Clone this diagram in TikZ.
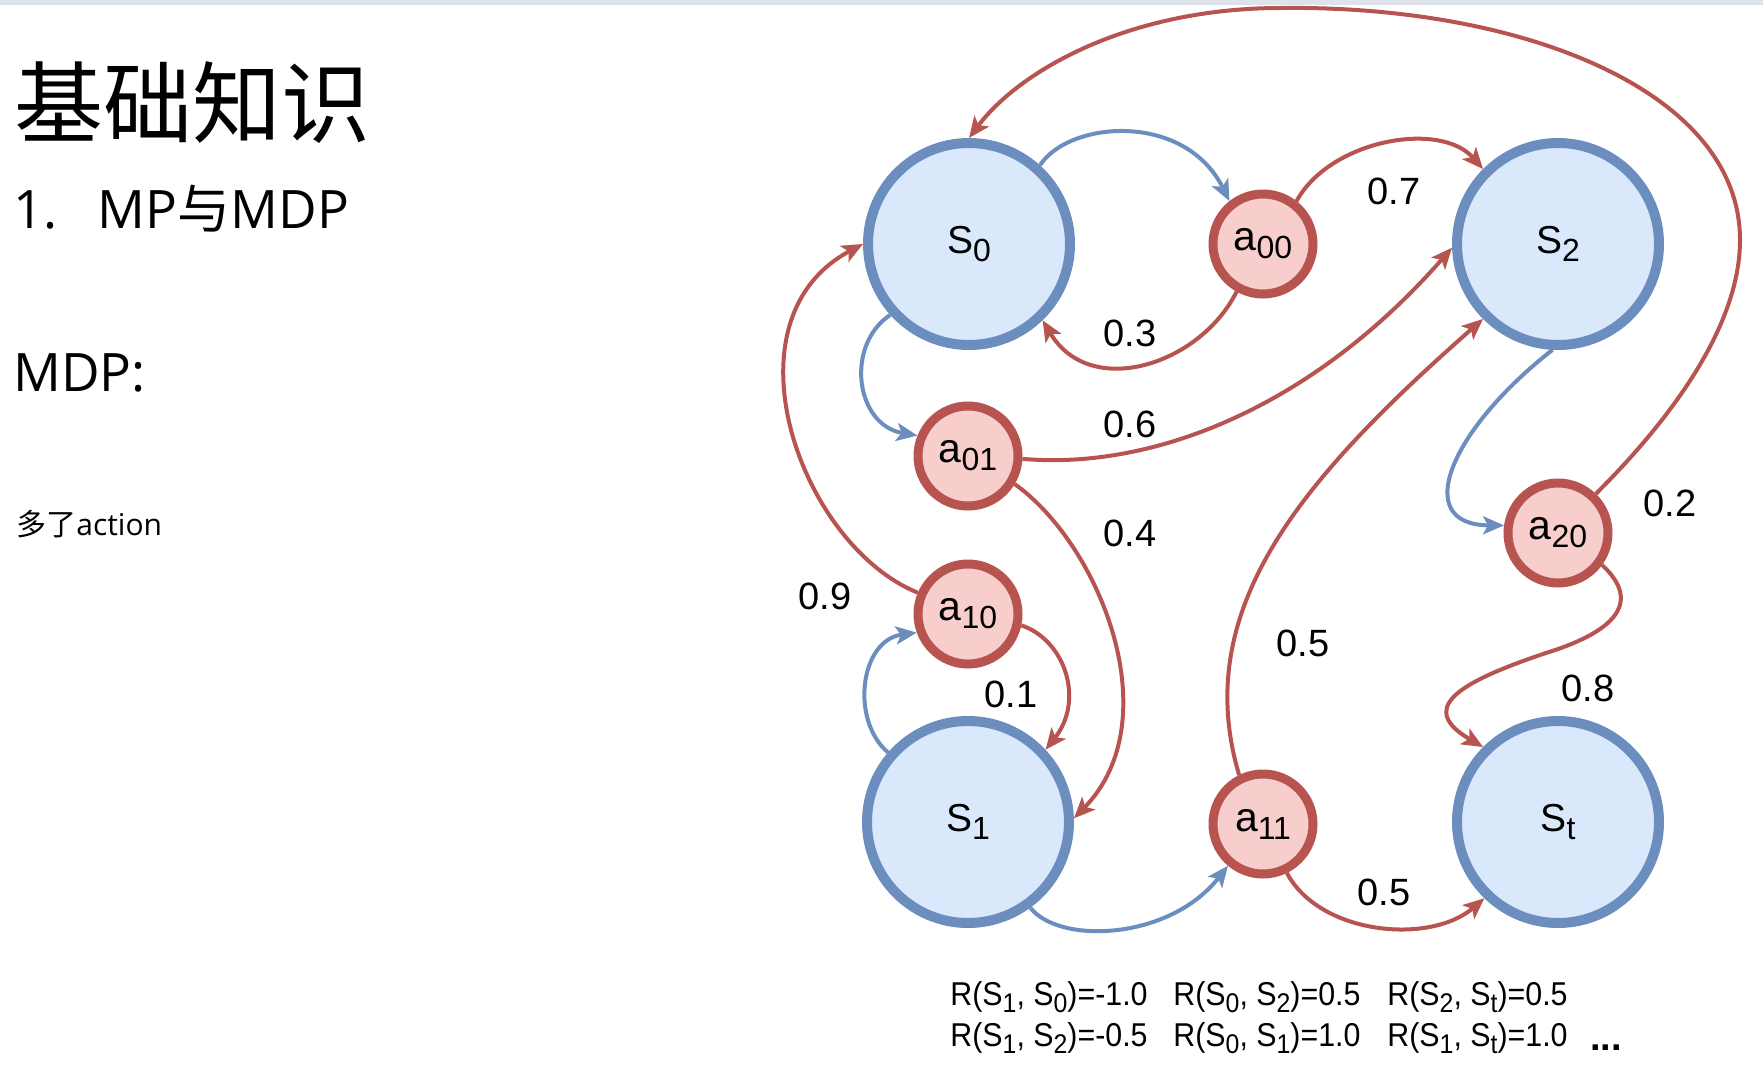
\documentclass[tikz,border=0pt]{standalone}
\usepackage{fontspec}
\setmainfont{Liberation Sans}
\newfontfamily\cjk{Noto Sans CJK SC}
\newfontfamily\lat{Open Sans}
\newfontfamily\narrow[FakeStretch=0.92]{Liberation Sans}
\usetikzlibrary{arrows.meta}
\definecolor{sblue}{HTML}{6C8EBF}
\definecolor{sbluef}{HTML}{DAE8FC}
\definecolor{sred}{HTML}{B85450}
\definecolor{sredf}{HTML}{F8CECC}
\definecolor{topbar}{HTML}{DDE3E8}
\newcommand\nsub[2]{#1\raisebox{-4pt}{\fontsize{16pt}{16pt}\selectfont #2}}
\newcommand\rsub[1]{\raisebox{-3.5pt}{\fontsize{13.5pt}{13.5pt}\selectfont #1}}
\begin{document}
\begin{tikzpicture}[x=0.5pt,y=-0.5pt,
  state/.style={circle,draw=sblue,fill=sbluef,line width=5pt,minimum size=101pt,inner sep=0pt,font=\fontsize{19.5pt}{20pt}\selectfont},
  act/.style={circle,draw=sred,fill=sredf,line width=4.5pt,minimum size=50pt,inner sep=0pt,font=\fontsize{20.5pt}{21pt}\selectfont},
  tip/.style={-{Stealth[length=10.5pt,width=9pt,inset=2.5pt]}},
  bedge/.style={draw=sblue,line width=2pt,tip},
  redge/.style={draw=sred,line width=2pt,tip},
  plab/.style={inner sep=0pt,font=\fontsize{19pt}{20pt}\selectfont},
  rtxt/.style={anchor=base west,inner sep=0pt,font=\narrow\fontsize{16.5pt}{17pt}\selectfont},
  ttl/.style={anchor=base west,inner sep=0pt}
]
\path[use as bounding box,fill=white] (0,0) rectangle (1763,1072);
\fill[topbar] (0,0) rectangle (1763,5);

% title block
\node[ttl,font=\cjk\fontsize{44.5pt}{45pt}\selectfont] (title) at (14,136) {基础知识};
\node[ttl,font=\lat\fontsize{26.5pt}{27pt}\selectfont] (sec) at (13,228) {1.\hspace{20pt}MP{\cjk 与}MDP};
\node[ttl,font=\lat\fontsize{26.5pt}{27pt}\selectfont] (mdp) at (13,391) {MDP:};
\node[ttl,font=\lat\fontsize{15pt}{16pt}\selectfont] (note) at (16,535) {{\cjk 多了}action};

% nodes
\node[state] (S0) at (969,244) {\nsub{S}{0}};
\node[state] (S2) at (1558,244) {\nsub{S}{2}};
\node[state] (S1) at (968,822) {\nsub{S}{1}};
\node[state] (St) at (1558,822) {\nsub{S}{t}};
\node[act] (a00) at (1263,244) {\nsub{a}{00}};
\node[act] (a01) at (968,456) {\nsub{a}{01}};
\node[act] (a10) at (968,614) {\nsub{a}{10}};
\node[act] (a20) at (1558,533) {\nsub{a}{20}};
\node[act] (a11) at (1263,824) {\nsub{a}{11}};

\coordinate (w1) at (1740,240);
\coordinate (w2) at (1281,8);
\coordinate (w3) at (1546,653);

% edges
\draw[bedge] (S0.48) .. controls (1070,120) and (1185,112) .. (a00.128);
\draw[redge] (a00.52) .. controls (1330,140) and (1440,120) .. (S2.135);
\draw[redge] (a00.241) .. controls (1200,365) and (1090,400) .. (S0.314);
\draw[bedge] (S0.222) .. controls (845,345) and (855,425) .. (a01.158);
\draw[redge] (a01.-3) .. controls (1150,470) and (1310,410) .. (S2.182);
\draw[redge] (a01.-31) .. controls (1100,545) and (1170,720) .. (S1.2);
\draw[redge] (a10.157) .. controls (800,545) and (720,320) .. (S0.180);
\draw[bedge] (S1.139) .. controls (850,720) and (860,640) .. (a10.200);
\draw[redge] (a10.-12) .. controls (1065,640) and (1085,700) .. (S1.43);
\draw[bedge] (S1.306) .. controls (1060,945) and (1170,940) .. (a11.230);
\draw[redge] (a11.116) .. controls (1190,610) and (1300,480) .. (S2.225);
\draw[redge] (a11.-64) .. controls (1320,935) and (1430,945) .. (St.226);
\draw[bedge] (S2.267) .. controls (1450,430) and (1410,525) .. (a20.172);
\draw[redge] (a20.46) .. controls (1680,410) and (1740,320) .. (w1)
   .. controls (1740,90) and (1520,5) .. (w2)
   .. controls (1130,8) and (1020,70) .. (S0.90);
\draw[redge] (a20.-36) .. controls (1640,600) and (1620,630) .. (w3)
   .. controls (1450,685) and (1420,710) .. (St.135);

% probability labels
\node[plab] (p07) at (1394,191) {0.7};
\node[plab] (p03) at (1130,333) {0.3};
\node[plab] (p06) at (1130,424) {0.6};
\node[plab] (p04) at (1130,533) {0.4};
\node[plab] (p09) at (825,596) {0.9};
\node[plab] (p01) at (1011,694) {0.1};
\node[plab] (p05a) at (1303,643) {0.5};
\node[plab] (p05b) at (1384,892) {0.5};
\node[plab] (p02) at (1670,503) {0.2};
\node[plab] (p08) at (1588,688) {0.8};

% reward text
\node[rtxt] (r1) at (950,1005) {R(S\rsub{1}, S\rsub{0})=-1.0};
\node[rtxt] (r2) at (1173,1005) {R(S\rsub{0}, S\rsub{2})=0.5};
\node[rtxt] (r3) at (1387,1005) {R(S\rsub{2}, S\rsub{t})=0.5};
\node[rtxt] (r4) at (950,1046) {R(S\rsub{1}, S\rsub{2})=-0.5};
\node[rtxt] (r5) at (1173,1046) {R(S\rsub{0}, S\rsub{1})=1.0};
\node[rtxt] (r6) at (1387,1046) {R(S\rsub{1}, S\rsub{t})=1.0};
\node[anchor=base west,inner sep=0pt,font=\bfseries\fontsize{19pt}{20pt}\selectfont] (dots) at (1590,1050) {...};
\end{tikzpicture}
\end{document}
